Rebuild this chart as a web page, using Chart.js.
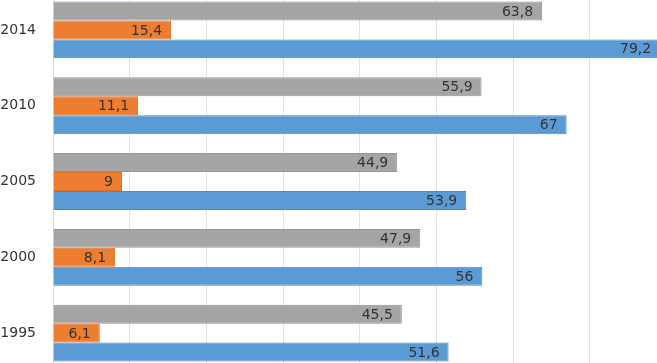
<!DOCTYPE html>
<html lang="en">
<head>
    <meta charset="UTF-8">
    <title>Bar chart</title>
    <style>
        html, body {
            margin: 0;
            padding: 0;
            background: #fff;
            overflow: hidden;
        }
        .frame {
            position: relative;
            width: 657px;
            height: 363px;
            overflow: hidden;
        }
        #barChart {
            position: absolute;
            left: 0;
            top: -8px;
        }
    </style>
</head>
<body>
    <div class="frame">
        <canvas id="barChart" width="743" height="379"></canvas>
    </div>

    <script src="https://cdn.jsdelivr.net/npm/chart.js"></script>
    <script>
        // years, top to bottom
        const years = ['2014', '2010', '2005', '2000', '1995'];

        // three series per year (gray on top, orange middle, blue bottom)
        const grayValues = [63.8, 55.9, 44.9, 47.9, 45.5];
        const orangeValues = [15.4, 11.1, 9, 8.1, 6.1];
        const blueValues = [79.2, 67, 53.9, 56, 51.6];

        const xTicks = [0, 10, 20, 30, 40, 50, 60, 70, 80, 90];

        // value labels drawn at the inner end of each bar
        const barLabels = {
            id: 'barLabels',
            afterDatasetsDraw(chart) {
                const ctx = chart.ctx;
                ctx.save();
                ctx.font = '14px "DejaVu Sans", sans-serif';
                ctx.fillStyle = '#333333';
                ctx.textAlign = 'right';
                ctx.textBaseline = 'middle';
                chart.data.datasets.forEach(function(ds, i) {
                    const meta = chart.getDatasetMeta(i);
                    meta.data.forEach(function(bar, j) {
                        const txt = String(ds.data[j]).replace('.', ',');
                        ctx.fillText(txt, bar.x - 9, bar.y + 1);
                    });
                });
                ctx.restore();
            }
        };

        const ctx = document.getElementById('barChart').getContext('2d');
        const barChart = new Chart(ctx, {
            type: 'bar',
            data: {
                labels: years,
                datasets: [{
                    label: 'gray',
                    data: grayValues,
                    backgroundColor: '#a5a5a5',
                    borderColor: '#959595',
                    borderWidth: 1
                }, {
                    label: 'orange',
                    data: orangeValues,
                    backgroundColor: '#ed7d31',
                    borderColor: '#e06d20',
                    borderWidth: 1
                }, {
                    label: 'blue',
                    data: blueValues,
                    backgroundColor: '#5b9bd5',
                    borderColor: '#4a89c4',
                    borderWidth: 1
                }]
            },
            options: {
                indexAxis: 'y',
                responsive: false,
                maintainAspectRatio: false,
                animation: false,
                layout: { padding: 0 },
                datasets: {
                    bar: {
                        categoryPercentage: 0.75,
                        barPercentage: 1
                    }
                },
                plugins: {
                    legend: { display: false },
                    tooltip: { enabled: false }
                },
                scales: {
                    x: {
                        min: xTicks[0],
                        max: xTicks[xTicks.length - 1],
                        afterBuildTicks(scale) {
                            scale.ticks = xTicks.map(function(v) { return { value: v }; });
                        },
                        afterFit(scale) {
                            scale.height = 0;
                        },
                        ticks: { display: false },
                        border: { display: false },
                        grid: {
                            color: '#e3e3e3',
                            lineWidth: 1,
                            drawTicks: false
                        }
                    },
                    y: {
                        afterFit(scale) {
                            scale.width = 53;
                            scale.paddingTop = 0;
                            scale.paddingBottom = 0;
                        },
                        ticks: {
                            color: '#333333',
                            padding: 17,
                            font: { family: '"DejaVu Sans", sans-serif', size: 14 }
                        },
                        border: { display: true, color: '#d9d9d9' },
                        grid: { display: false, drawTicks: false }
                    }
                }
            },
            plugins: [barLabels]
        });
    </script>
</body>
</html>
